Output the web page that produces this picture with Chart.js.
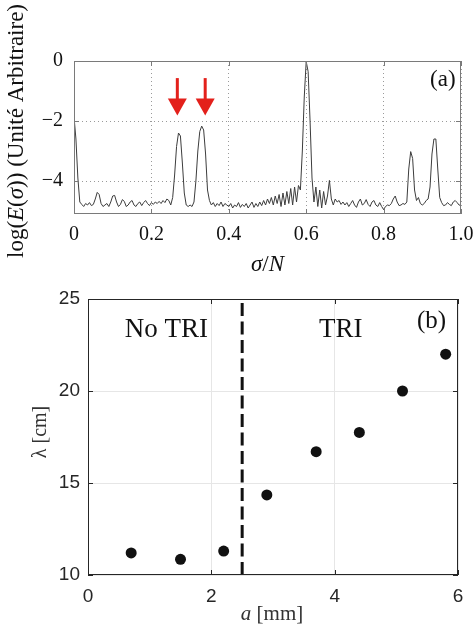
<!DOCTYPE html>
<html>
<head>
<meta charset="utf-8">
<script src="https://cdn.jsdelivr.net/npm/chart.js@4"></script>
<style>
  body { margin: 0; background: #fff; }
  #wrap { position: relative; width: 476px; height: 630px; }
  #wrap canvas { position: absolute; left: 0; }
</style>
</head>
<body>
<div id="wrap">
  <canvas id="specChart" width="476" height="275" style="top:0"></canvas>
  <canvas id="lambdaChart" width="476" height="350" style="top:280px"></canvas>
</div>
<script>
// ---- panel (a): spectrum ----
const sigma = [
  0.000, 0.005, 0.010, 0.015, 0.020, 0.025, 0.030, 0.035, 0.040, 0.045,
  0.050, 0.055, 0.060, 0.065, 0.070, 0.075, 0.080, 0.085, 0.090, 0.095,
  0.100, 0.105, 0.110, 0.115, 0.120, 0.125, 0.130, 0.135, 0.140, 0.145,
  0.150, 0.155, 0.160, 0.165, 0.170, 0.175, 0.180, 0.185, 0.190, 0.195,
  0.200, 0.205, 0.210, 0.215, 0.220, 0.225, 0.230, 0.235, 0.240, 0.245,
  0.250, 0.255, 0.260, 0.265, 0.270, 0.275, 0.280, 0.285, 0.290, 0.295,
  0.300, 0.305, 0.310, 0.315, 0.320, 0.325, 0.330, 0.335, 0.340, 0.345,
  0.350, 0.355, 0.360, 0.365, 0.370, 0.375, 0.380, 0.385, 0.390, 0.395,
  0.400, 0.405, 0.410, 0.415, 0.420, 0.425, 0.430, 0.435, 0.440, 0.445,
  0.450, 0.455, 0.460, 0.465, 0.470, 0.475, 0.480, 0.485, 0.490, 0.495,
  0.500, 0.505, 0.510, 0.515, 0.520, 0.525, 0.530, 0.535, 0.540, 0.545,
  0.550, 0.555, 0.560, 0.565, 0.570, 0.575, 0.580, 0.585, 0.590, 0.595,
  0.600, 0.605, 0.610, 0.615, 0.620, 0.625, 0.630, 0.635, 0.640, 0.645,
  0.650, 0.655, 0.660, 0.665, 0.670, 0.675, 0.680, 0.685, 0.690, 0.695,
  0.700, 0.705, 0.710, 0.715, 0.720, 0.725, 0.730, 0.735, 0.740, 0.745,
  0.750, 0.755, 0.760, 0.765, 0.770, 0.775, 0.780, 0.785, 0.790, 0.795,
  0.800, 0.805, 0.810, 0.815, 0.820, 0.825, 0.830, 0.835, 0.840, 0.845,
  0.850, 0.855, 0.860, 0.865, 0.870, 0.875, 0.880, 0.885, 0.890, 0.895,
  0.900, 0.905, 0.910, 0.915, 0.920, 0.925, 0.930, 0.935, 0.940, 0.945,
  0.950, 0.955, 0.960, 0.965, 0.970, 0.975, 0.980, 0.985, 0.990, 0.995,
  1.000
];
const logE = [
  -1.85, -2.6, -3.9, -4.7, -4.78, -4.85, -4.75, -4.8, -4.72, -4.82,
  -4.78, -4.6, -4.38, -4.45, -4.75, -4.85, -4.8, -4.75, -4.85, -4.7,
  -4.5, -4.48, -4.7, -4.85, -4.78, -4.62, -4.68, -4.85, -4.8, -4.7,
  -4.65, -4.8, -4.85, -4.75, -4.7, -4.82, -4.72, -4.65, -4.75, -4.82,
  -4.72, -4.78, -4.7, -4.75, -4.68, -4.75, -4.65, -4.72, -4.6, -4.65,
  -4.8, -4.55, -3.8, -2.85, -2.4, -2.5, -3.4, -4.4, -4.8, -4.85,
  -4.8, -4.85, -4.7, -4.0, -3.0, -2.35, -2.17, -2.3, -3.1, -4.3,
  -4.65, -4.8, -4.72, -4.85, -4.75, -4.82, -4.7, -4.85, -4.75, -4.8,
  -4.85, -4.75, -4.9, -4.8, -4.85, -4.72, -4.88, -4.78, -4.85, -4.75,
  -4.9, -4.8, -4.7, -4.88, -4.75, -4.85, -4.7, -4.82, -4.65, -4.8,
  -4.6, -4.75, -4.55, -4.8, -4.5, -4.75, -4.45, -4.85, -4.4, -4.8,
  -4.35, -4.75, -4.25, -4.8, -4.2, -4.7, -4.15, -4.3, -3.0, -1.2,
  -0.02, -0.35, -2.0, -3.9, -4.7, -4.2, -4.85, -4.3, -4.9, -4.35,
  -4.8, -4.5, -3.98, -4.6, -4.8, -4.6, -4.7, -4.65, -4.78, -4.7,
  -4.8, -4.72, -4.85, -4.75, -4.65, -4.8, -4.88, -4.7, -4.6, -4.8,
  -4.75, -4.62, -4.78, -4.85, -4.7, -4.65, -4.8, -4.85, -4.72, -4.85,
  -4.95, -4.85, -4.8, -4.82, -4.75, -4.6, -4.5, -4.7, -4.82, -4.8,
  -4.75, -4.78, -4.7, -3.6, -3.02, -3.25, -4.3, -4.65, -4.55, -4.75,
  -4.8, -4.75, -4.65, -4.6, -4.2, -3.1, -2.6, -2.6, -3.6, -4.55,
  -4.72, -4.82, -4.8, -4.72, -4.78, -4.82, -4.7, -4.65, -4.72, -4.8,
  -4.82
];
const specXTicks = [0, 0.2, 0.4, 0.6, 0.8, 1.0];
const specYTicks = [-4, -2, 0];
const arrowSigma = [0.267, 0.339];
const arrowTop = -0.57, arrowHead = -1.25, arrowTip = -1.82;

// ---- panel (b): wavelength vs a ----
const aValues = [0.7, 1.5, 2.2, 2.9, 3.7, 4.4, 5.1, 5.8];
const lambdaValues = [11.2, 10.85, 11.3, 14.35, 16.7, 17.75, 20.0, 22.0];
const threshold = 2.5;
const lambdaXTicks = [0, 2, 4, 6];
const lambdaYTicks = [10, 15, 20, 25];

const serif = '"Liberation Serif", "Times New Roman", serif';
const sans = '"Liberation Sans", Arial, sans-serif';

// draws a string made of plain/italic pieces, centred on (x, y)
function drawRich(ctx, parts, x, y, size, color, rotate) {
  ctx.save();
  ctx.translate(x, y);
  if (rotate) ctx.rotate(-Math.PI / 2);
  ctx.fillStyle = color;
  ctx.textBaseline = 'middle';
  ctx.textAlign = 'left';
  let total = 0;
  parts.forEach(p => {
    ctx.font = (p[1] ? 'italic ' : '') + size + 'px ' + serif;
    total += ctx.measureText(p[0]).width;
  });
  let cx = -total / 2;
  parts.forEach(p => {
    ctx.font = (p[1] ? 'italic ' : '') + size + 'px ' + serif;
    ctx.fillText(p[0], cx, 0);
    cx += ctx.measureText(p[0]).width;
  });
  ctx.restore();
}

// box around the plot area with small inward ticks
function drawBox(chart, color, xt, yt) {
  const ctx = chart.ctx, a = chart.chartArea;
  const xs = chart.scales.x, ys = chart.scales.y;
  ctx.save();
  ctx.strokeStyle = color;
  ctx.lineWidth = 1;
  ctx.strokeRect(a.left + 0.5, a.top + 0.5, a.right - a.left - 1, a.bottom - a.top - 1);
  ctx.beginPath();
  xt.forEach(v => {
    const px = Math.round(xs.getPixelForValue(v)) + 0.5;
    ctx.moveTo(px, a.bottom); ctx.lineTo(px, a.bottom - 5);
    ctx.moveTo(px, a.top); ctx.lineTo(px, a.top + 5);
  });
  yt.forEach(v => {
    const py = Math.round(ys.getPixelForValue(v)) + 0.5;
    ctx.moveTo(a.left, py); ctx.lineTo(a.left + 5, py);
    ctx.moveTo(a.right, py); ctx.lineTo(a.right - 5, py);
  });
  ctx.stroke();
  ctx.restore();
}

// keep the plot area where the layout padding puts it
function fixPad(s) {
  s.paddingLeft = 0; s.paddingRight = 0; s.paddingTop = 0; s.paddingBottom = 0;
}

const specDecor = {
  id: 'specDecor',
  afterDatasetsDraw(chart) {
    const ctx = chart.ctx;
    const xs = chart.scales.x, ys = chart.scales.y;
    drawBox(chart, '#7a7a7a', specXTicks, specYTicks);
    // red arrows
    ctx.save();
    ctx.fillStyle = '#e3201b';
    arrowSigma.forEach(s => {
      const px = xs.getPixelForValue(s);
      const y0 = ys.getPixelForValue(arrowTop);
      const y1 = ys.getPixelForValue(arrowHead);
      const y2 = ys.getPixelForValue(arrowTip);
      ctx.fillRect(px - 1.5, y0, 3, y1 - y0 + 1);
      ctx.beginPath();
      ctx.moveTo(px - 9.5, y1);
      ctx.lineTo(px + 9.5, y1);
      ctx.lineTo(px, y2);
      ctx.closePath();
      ctx.fill();
    });
    ctx.restore();
    drawRich(ctx, [['(a)', false]], xs.getPixelForValue(0.953), ys.getPixelForValue(-0.62), 23, '#111');
    drawRich(ctx, [['log(', false], ['E', true], ['(', false], ['σ', true], [')) (Unité Arbitraire)', false]],
      17, 131, 23, '#111', true);
    drawRich(ctx, [['σ', true], ['/', false], ['N', true]], (chart.chartArea.left + chart.chartArea.right) / 2, 265, 23, '#111');
  }
};

const lambdaDecor = {
  id: 'lambdaDecor',
  afterDatasetsDraw(chart) {
    const ctx = chart.ctx;
    const xs = chart.scales.x, ys = chart.scales.y;
    drawBox(chart, '#262626', lambdaXTicks, lambdaYTicks);
    drawRich(ctx, [['No TRI', false]], xs.getPixelForValue(1.27), ys.getPixelForValue(23.3), 27, '#111');
    drawRich(ctx, [['TRI', false]], xs.getPixelForValue(4.1), ys.getPixelForValue(23.3), 27, '#111');
    drawRich(ctx, [['(b)', false]], xs.getPixelForValue(5.57), ys.getPixelForValue(23.8), 25, '#111');
    drawRich(ctx, [['λ [cm]', false]], 41, 152, 20, '#333', true);
    drawRich(ctx, [['a', true], [' [mm]', false]], 272, 334, 21, '#333');
  }
};

new Chart(document.getElementById('specChart'), {
  type: 'line',
  data: {
    datasets: [{
      data: sigma.map((s, i) => ({ x: s, y: logE[i] })),
      borderColor: '#3c3c3c',
      borderWidth: 1,
      pointRadius: 0,
      tension: 0
    }]
  },
  options: {
    responsive: false,
    animation: false,
    layout: { padding: { top: 61, right: 15, left: 0, bottom: 0 } },
    plugins: { legend: { display: false }, tooltip: { enabled: false } },
    scales: {
      x: {
        type: 'linear', min: 0, max: 1,
        afterBuildTicks: s => { s.ticks = specXTicks.map(v => ({ value: v })); },
        afterFit: s => { s.height = 61; fixPad(s); },
        grid: { color: '#9a9a9a', lineWidth: 1, drawTicks: false },
        border: { display: false, dash: [1, 3] },
        ticks: {
          padding: 9, color: '#111', maxRotation: 0,
          font: { family: serif, size: 20 },
          callback: v => v === 0 ? '0' : v.toFixed(1)
        }
      },
      y: {
        type: 'linear', min: -5.1, max: 0,
        afterBuildTicks: s => { s.ticks = specYTicks.map(v => ({ value: v })); },
        afterFit: s => { s.width = 74; fixPad(s); },
        grid: { color: '#9a9a9a', lineWidth: 1, drawTicks: false },
        border: { display: false, dash: [1, 3] },
        ticks: {
          padding: 11, color: '#111',
          font: { family: serif, size: 20 },
          callback: v => v < 0 ? '\u2212' + Math.abs(v) : String(v)
        }
      }
    }
  },
  plugins: [specDecor]
});

new Chart(document.getElementById('lambdaChart'), {
  type: 'scatter',
  data: {
    datasets: [{
      data: aValues.map((a, i) => ({ x: a, y: lambdaValues[i] })),
      backgroundColor: '#111',
      borderWidth: 0,
      pointRadius: 5.5
    }, {
      type: 'line',
      data: [{ x: threshold, y: 10 }, { x: threshold, y: 25 }],
      borderColor: '#111',
      borderWidth: 3,
      borderDash: [13, 5.5],
      pointRadius: 0
    }]
  },
  options: {
    responsive: false,
    animation: false,
    layout: { padding: { top: 19, right: 18, left: 0, bottom: 0 } },
    plugins: { legend: { display: false }, tooltip: { enabled: false } },
    scales: {
      x: {
        type: 'linear', min: 0, max: 6,
        afterBuildTicks: s => { s.ticks = lambdaXTicks.map(v => ({ value: v })); },
        afterFit: s => { s.height = 55; fixPad(s); },
        grid: { color: '#e6e6e6', lineWidth: 1, drawTicks: false },
        border: { display: false },
        ticks: { padding: 10, color: '#262626', maxRotation: 0, font: { family: sans, size: 19 } }
      },
      y: {
        type: 'linear', min: 10, max: 25,
        afterBuildTicks: s => { s.ticks = lambdaYTicks.map(v => ({ value: v })); },
        afterFit: s => { s.width = 88; fixPad(s); },
        grid: { color: '#e6e6e6', lineWidth: 1, drawTicks: false },
        border: { display: false },
        ticks: { padding: 8, color: '#262626', font: { family: sans, size: 19 } }
      }
    }
  },
  plugins: [lambdaDecor]
});
</script>
</body>
</html>
